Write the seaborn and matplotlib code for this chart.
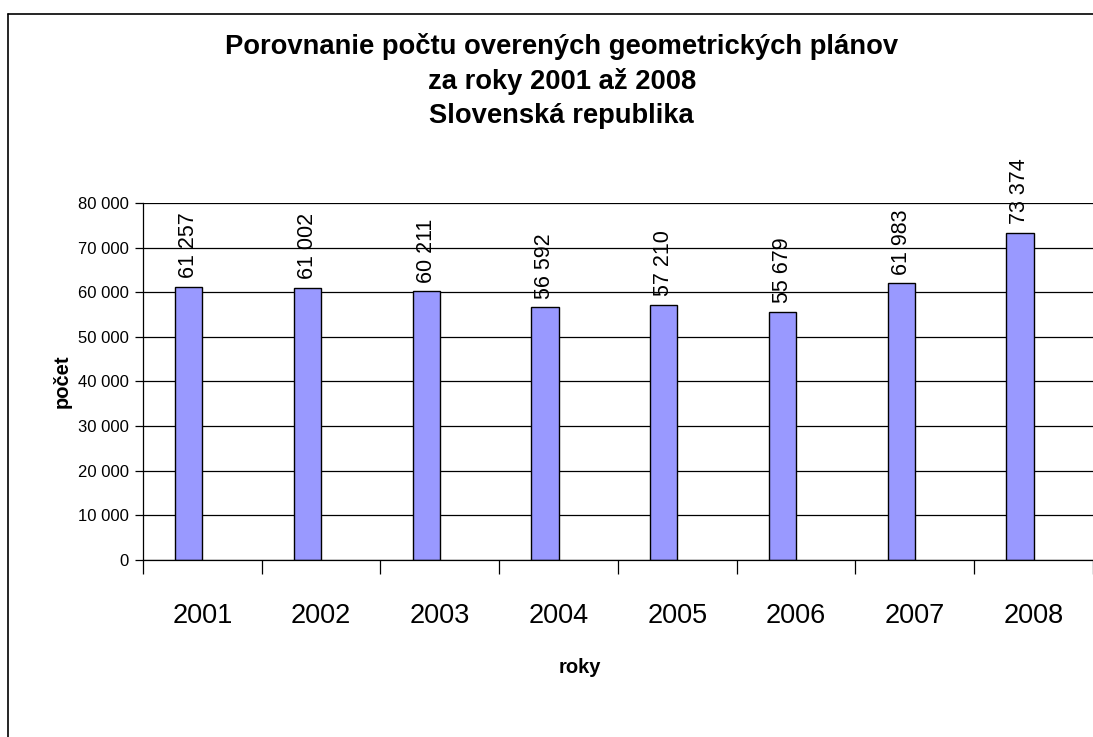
import matplotlib.pyplot as plt
import matplotlib.ticker as mticker
import pandas as pd
import seaborn as sns
from matplotlib.lines import Line2D

# --- data ---
roky = ['2001', '2002', '2003', '2004', '2005', '2006', '2007', '2008']
pocet = [61257, 61002, 60211, 56592, 57210, 55679, 61983, 73374]
# Excel chart had a second (empty) series, so the bars sit left of centre
series = ['overené', 'prázdna']
y_ticks = [0, 10000, 20000, 30000, 40000, 50000, 60000, 70000, 80000]


def fmt(v, _=None):
    return f"{int(v):,}".replace(",", " ")


def plot_results():
    df = pd.DataFrame({
        'rok': roky * 2,
        'pocet': pocet + [float('nan')] * len(roky),
        'seria': [series[0]] * len(roky) + [series[1]] * len(roky),
    })

    sns.set_theme(style="white")
    plt.rcParams['font.family'] = ['Liberation Sans', 'DejaVu Sans']
    plt.rcParams['text.color'] = 'black'
    plt.rcParams['axes.labelcolor'] = 'black'
    plt.rcParams['xtick.color'] = 'black'
    plt.rcParams['ytick.color'] = 'black'

    fig = plt.figure(figsize=(10.93, 7.37), dpi=100)
    ax = fig.add_axes([0.1308, 0.2402, 0.8692, 0.4844])

    sns.barplot(
        data=df, x='rok', y='pocet', hue='seria', hue_order=series,
        palette=['#9999FF', '#9999FF'], saturation=1, width=0.46,
        edgecolor='black', linewidth=1, errorbar=None, legend=False, ax=ax,
    )

    ax.set_ylim(0, 80000)
    ax.set_xlim(-0.5, len(roky) - 0.5)
    ax.set_yticks(y_ticks)
    ax.yaxis.set_major_formatter(mticker.FuncFormatter(fmt))
    ax.yaxis.grid(True, color='black', linewidth=0.9)
    ax.set_axisbelow(True)

    for s in ['top', 'right']:
        ax.spines[s].set_visible(False)
    for s in ['left', 'bottom']:
        ax.spines[s].set_color('black')
        ax.spines[s].set_linewidth(0.9)

    ax.tick_params(axis='y', left=True, length=6, width=0.9, color='black',
                   labelsize=12, pad=4)
    ax.set_xticks(range(len(roky)))
    ax.set_xticklabels(roky)
    ax.set_xticks([i - 0.5 for i in range(len(roky) + 1)], minor=True)
    ax.tick_params(axis='x', which='major', length=0, labelsize=19.5, pad=31)
    ax.tick_params(axis='x', which='minor', bottom=True, length=10, width=0.9,
                   color='black')

    ax.bar_label(ax.containers[0], labels=[fmt(v) for v in pocet],
                 rotation=90, padding=6, fontsize=15.5)

    ax.set_ylabel('počet', fontsize=14.5, fontweight='bold')
    ax.yaxis.set_label_coords(-0.075, 0.5)
    ax.set_xlabel('roky', fontsize=14.5, fontweight='bold')
    ax.xaxis.set_label_coords(0.46, -0.2745)

    fig.text(0.514, 0.955,
             'Porovnanie počtu overených geometrických plánov\n'
             'za roky 2001 až 2008\nSlovenská republika',
             ha='center', va='top', fontsize=19.7, fontweight='bold',
             linespacing=1.38)

    # chart frame (left and top edges visible in the screenshot)
    fig.add_artist(Line2D([8 / 1093, 8 / 1093], [0, 1 - 14 / 737],
                          color='black', linewidth=1.2))
    fig.add_artist(Line2D([8 / 1093, 1], [1 - 14 / 737, 1 - 14 / 737],
                          color='black', linewidth=1.2))

    fig.savefig('out.png', dpi=100)


if __name__ == "__main__":
    plot_results()
